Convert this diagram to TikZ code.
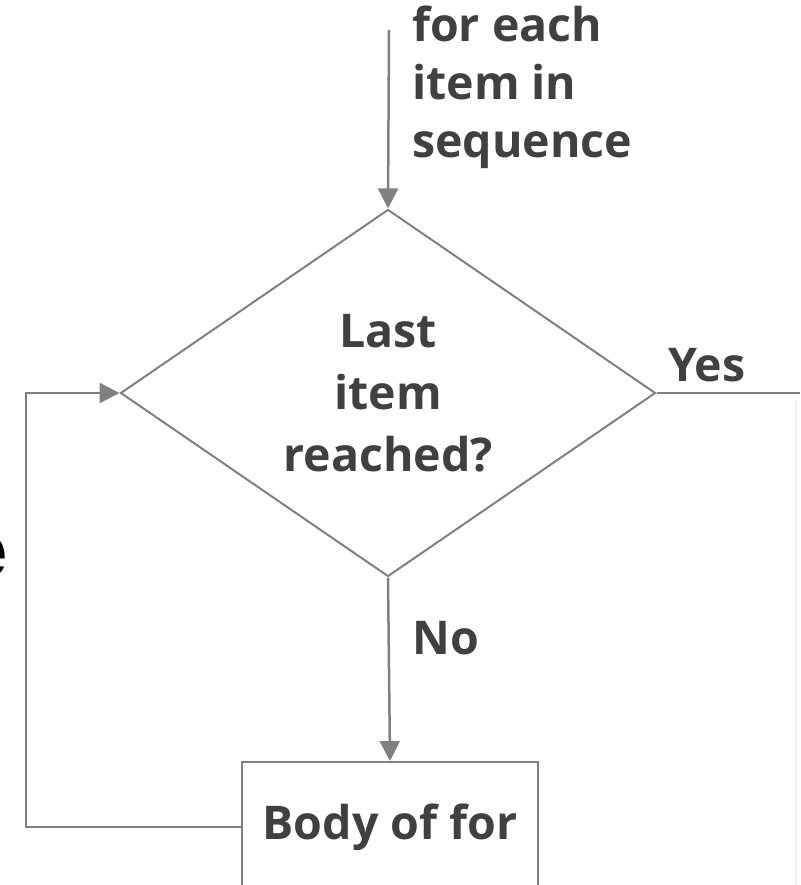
\documentclass[tikz,border=0pt]{standalone}
\usepackage{fontspec}
\setmainfont{Open Sans}
\newfontfamily\edgefont{Liberation Sans}
\usetikzlibrary{arrows.meta, positioning, shapes.geometric}
\definecolor{linegray}{rgb}{0.5, 0.5, 0.5}
\definecolor{textgray}{rgb}{0.25, 0.25, 0.25}

\begin{document}
\begin{tikzpicture}[x=1pt, y=-1pt,
		conn/.style={linegray, line width=2.5pt},
		flowarrow/.style={conn, -{Triangle[length=20pt, width=20pt]}},
		txt/.style={text=textgray, font=\fontsize{46.5}{58}\selectfont\bfseries, inner sep=0pt}]
		\useasboundingbox (0,0) rectangle (800,885);
		\clip (0,0) rectangle (800,885);
		\fill [white] (0,0) rectangle (800,885);
		% shapes
		\node [diamond, draw=linegray, line width=2pt, minimum width=535pt, minimum height=356pt,
			align=center, txt, font=\fontsize{46.5}{62}\selectfont\bfseries] (dec) at (388,393) {Last\\item\\reached?};
		\node [rectangle, draw=linegray, line width=2pt, minimum width=296pt, minimum height=130pt, txt] (body) at (390,827) {Body of for};
		% labels
		\node [txt, anchor=north west, align=left] (seq) at (412,6) {for each\\item in\\sequence};
		\node [txt, anchor=west] (yes) at (668,365) {Yes};
		\node [txt, anchor=west] (no) at (412,638) {No};
		\node [anchor=base east, text=black, font=\fontsize{78}{78}\selectfont\edgefont\bfseries] (cut) at (11,577) {e};
		% connectors
		\coordinate (start) at (389,30);
		\coordinate (loop) at (26,0);
		\coordinate (edge) at (800,0);
		\draw [flowarrow] (start) -- (dec.north);
		\draw [flowarrow] (dec.south) -- (body.north);
		\draw [flowarrow] (body.west) -- (body.west -| loop) |- (dec.west);
		\draw [conn] (dec.east) -- (dec.east -| edge);
		\draw [gray!12, line width=1.5pt] (796,400) -- (796,885);
	\end{tikzpicture}
\end{document}
